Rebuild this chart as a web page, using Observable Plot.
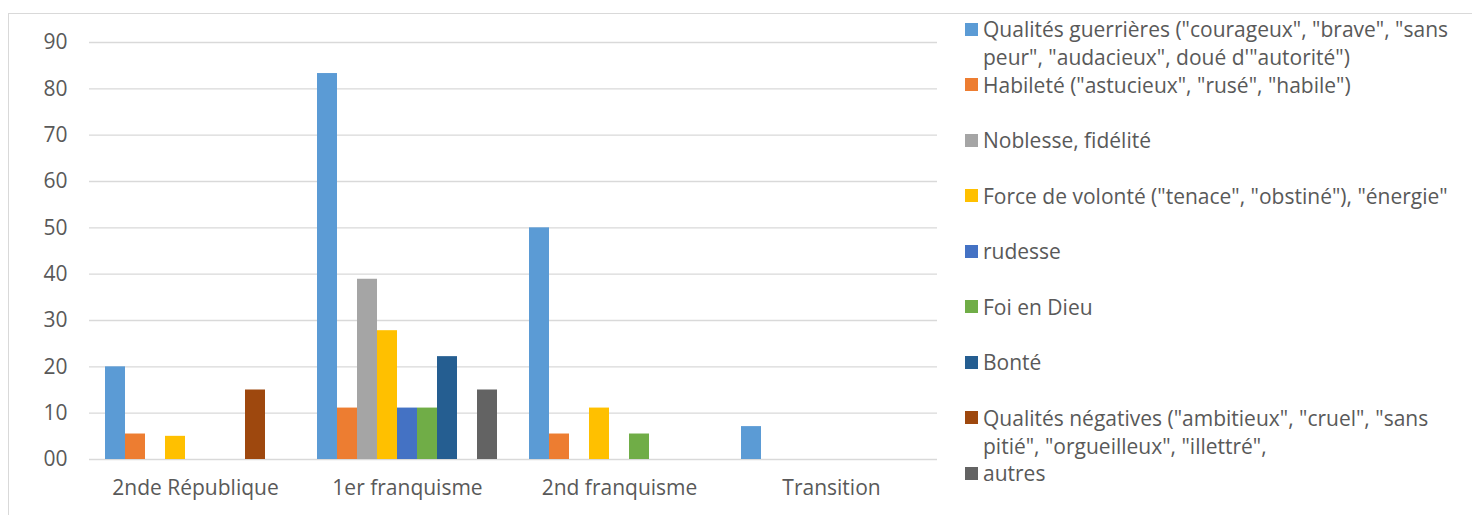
<!DOCTYPE html>
<html>
<head>
<meta charset="utf-8">
<script src="https://cdn.jsdelivr.net/npm/d3@7"></script>
<script src="https://cdn.jsdelivr.net/npm/@observablehq/plot@0.6"></script>
<style>
  html, body { margin: 0; padding: 0; background: #fff; }
  #wrap { position: relative; width: 1472px; height: 515px; overflow: hidden; font-family: "Open Sans", sans-serif; }
  #frame { position: absolute; left: 8px; top: 13px; width: 1500px; height: 600px; border-top: 1.5px solid #d9d9d9; border-left: 1.5px solid #d9d9d9; }
  #chart { position: absolute; left: 0; top: 0; }
  #legend { position: absolute; left: 0; top: 0; }
  .item { position: absolute; left: 965px; width: 505px; }
  .sw { position: absolute; left: 0; top: 7.5px; width: 13px; height: 13px; }
  .lbl { position: absolute; left: 18px; top: 0; width: 482px; font-size: 21px; line-height: 28px; color: #595959; }
</style>
</head>
<body>
<div id="wrap">
  <div id="frame"></div>
  <div id="chart"></div>
  <div id="legend"></div>
</div>
<script>
const periods = ["2nde République", "1er franquisme", "2nd franquisme", "Transition"];
const seriesNames = [
  "Qualités guerrières (\"courageux\", \"brave\", \"sans peur\", \"audacieux\", doué d'\"autorité\")",
  "Habileté (\"astucieux\", \"rusé\", \"habile\")",
  "Noblesse, fidélité",
  "Force de volonté (\"tenace\", \"obstiné\"), \"énergie\"",
  "rudesse",
  "Foi en Dieu",
  "Bonté",
  "Qualités négatives (\"ambitieux\", \"cruel\", \"sans pitié\", \"orgueilleux\", \"illettré\",",
  "autres"
];
const seriesColors = ["#5B9BD5", "#ED7D31", "#A5A5A5", "#FFC000", "#4472C4", "#70AD47", "#255E91", "#9E480E", "#636363"];
const guerrieres = [20, 83.3, 50, 7.1];
const habilete   = [5.5, 11.1, 5.5, 0];
const noblesse   = [0, 38.9, 0, 0];
const force      = [5, 27.8, 11.1, 0];
const rudesse    = [0, 11.1, 0, 0];
const foi        = [0, 11.1, 5.5, 0];
const bonte      = [0, 22.2, 0, 0];
const negatives  = [15, 0, 0, 0];
const autres     = [0, 15, 0, 0];
const yTicks = [0, 10, 20, 30, 40, 50, 60, 70, 80, 90];

const allValues = [guerrieres, habilete, noblesse, force, rudesse, foi, bonte, negatives, autres];
const data = [];
allValues.forEach((vals, si) => {
  vals.forEach((v, pi) => {
    if (v > 0) data.push({ period: periods[pi], series: seriesNames[si], value: v });
  });
});

const chart = Plot.plot({
  width: 1472,
  height: 515,
  marginLeft: 88,
  marginRight: 534,
  marginTop: 42,
  marginBottom: 56,
  style: { fontFamily: "Open Sans, sans-serif", fontSize: "21px", color: "#595959", background: "transparent" },
  fx: { domain: periods, padding: 0, label: null },
  x: { domain: seriesNames, paddingInner: 0, paddingOuter: 0.73, axis: null },
  y: { domain: [0, 90], label: null },
  color: { domain: seriesNames, range: seriesColors },
  marks: [
    Plot.ruleY(yTicks, { stroke: "#d9d9d9", strokeWidth: 1.4 }),
    Plot.barY(data, { fx: "period", x: "series", y: "value", fill: "series" }),
    Plot.axisY({ ticks: yTicks, tickSize: 0, tickPadding: 22, tickFormat: d => d === 0 ? "00" : String(d), label: null, fontSize: 21 }),
    Plot.axisFx({ anchor: "bottom", tickSize: 0, tickPadding: 21, label: null, fontSize: 21 })
  ]
});
document.getElementById("chart").appendChild(chart);

const legend = document.getElementById("legend");
seriesNames.forEach((name, i) => {
  const item = document.createElement("div");
  item.className = "item";
  item.style.top = (29.3 + i * 55.5 - 14) + "px";
  const sw = document.createElement("div");
  sw.className = "sw";
  sw.style.background = seriesColors[i];
  const lbl = document.createElement("div");
  lbl.className = "lbl";
  lbl.textContent = name;
  item.appendChild(sw);
  item.appendChild(lbl);
  legend.appendChild(item);
});
</script>
</body>
</html>
